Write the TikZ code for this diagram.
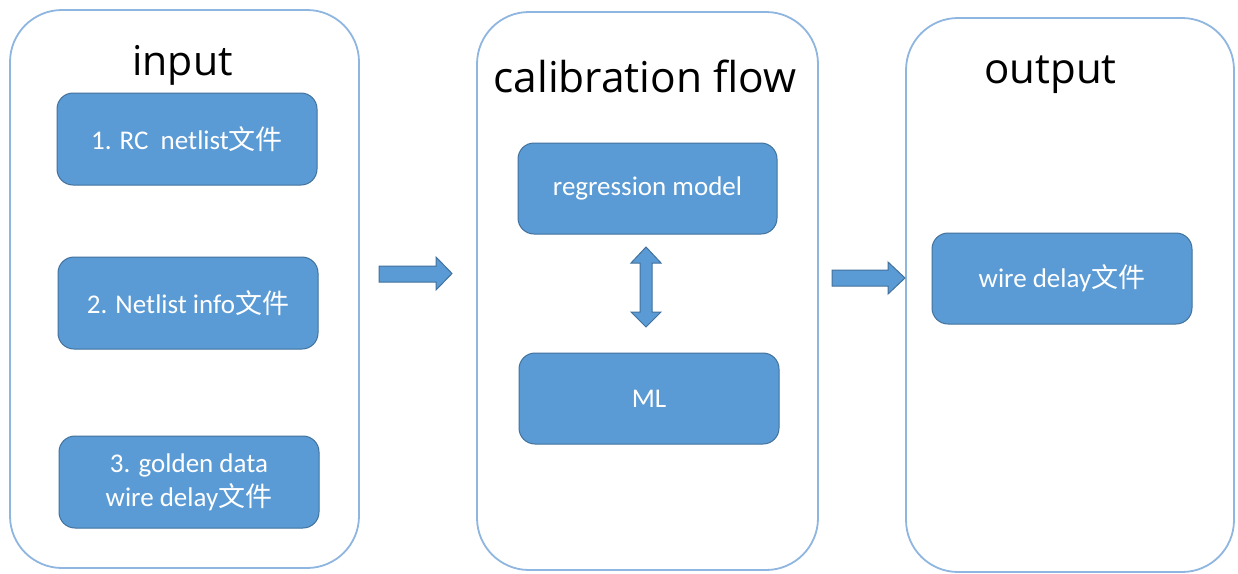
\documentclass[tikz,border=0pt]{standalone}
\usepackage{fontspec}
\setmainfont{Carlito}
\newfontfamily\cjk{Noto Sans CJK SC}
\newfontfamily\titlefont{Open Sans}
\definecolor{boxfill}{HTML}{5B9BD5}
\definecolor{boxline}{HTML}{41719C}
\definecolor{panelline}{HTML}{8FB6E0}
\tikzset{
  panel/.style={draw=panelline, line width=1.8pt, rounded corners=52pt, fill=white, inner sep=0pt},
  box/.style={draw=boxline, fill=boxfill, line width=1pt, rounded corners=16pt, text=white,
    align=center, font=\fontsize{27}{34}\selectfont, inner sep=0pt},
  title/.style={font=\titlefont\fontsize{41}{49}\selectfont, text=black, anchor=base, inner sep=0pt},
  blockarrow/.style={draw=boxline, fill=boxfill, line width=1pt, line join=miter}
}
\begin{document}
\begin{tikzpicture}[x=1pt,y=-1pt]
\useasboundingbox (0,0) rectangle (1238,573);
\fill[white] (0,0) rectangle (1238,573);
% panels
\node[panel, minimum width=349, minimum height=558] (pin)  at (184.5,289) {};
\node[panel, minimum width=341, minimum height=558] (pcal) at (647.5,291) {};
\node[panel, minimum width=328, minimum height=554] (pout) at (1070,295) {};
% titles
\node[title] (tin)  at (182.5,75) {input};
\node[title, font=\titlefont\fontsize{42.5}{50}\selectfont] (tcal) at (645,92) {calibration flow};
\node[title, font=\titlefont\fontsize{42}{50}\selectfont] (tout) at (1050.5,83) {output};
% boxes
\node[box, minimum width=260, minimum height=92] (b1) at (187,139) {1. RC~ netlist{\cjk 文件}};
\node[box, minimum width=260, minimum height=92] (b2) at (188,303) {2. Netlist info{\cjk 文件}};
\node[box, minimum width=260, minimum height=92] (b3) at (189,482) {3. golden data\\wire delay{\cjk 文件}};
\node[box, minimum width=259, minimum height=91] (reg) at (647.5,188.5) {\raisebox{-3pt}{regression model}};
\node[box, minimum width=260, minimum height=91] (ml) at (649,398.5) {ML};
\node[box, minimum width=260, minimum height=91] (wd) at (1062,278.5) {wire delay{\cjk 文件}};
% block arrows
\draw[blockarrow] (379,266) -- (436,266) -- (436,257) -- (452,273.5) -- (436,290) -- (436,282) -- (379,282) -- cycle;
\draw[blockarrow] (832,270) -- (888,270) -- (888,262) -- (905,278) -- (888,294) -- (888,286) -- (832,286) -- cycle;
\draw[blockarrow] (646,247) -- (661,263) -- (652,263) -- (652,312) -- (661,312) -- (646,327)
  -- (631,312) -- (640,312) -- (640,263) -- (631,263) -- cycle;
\end{tikzpicture}
\end{document}
